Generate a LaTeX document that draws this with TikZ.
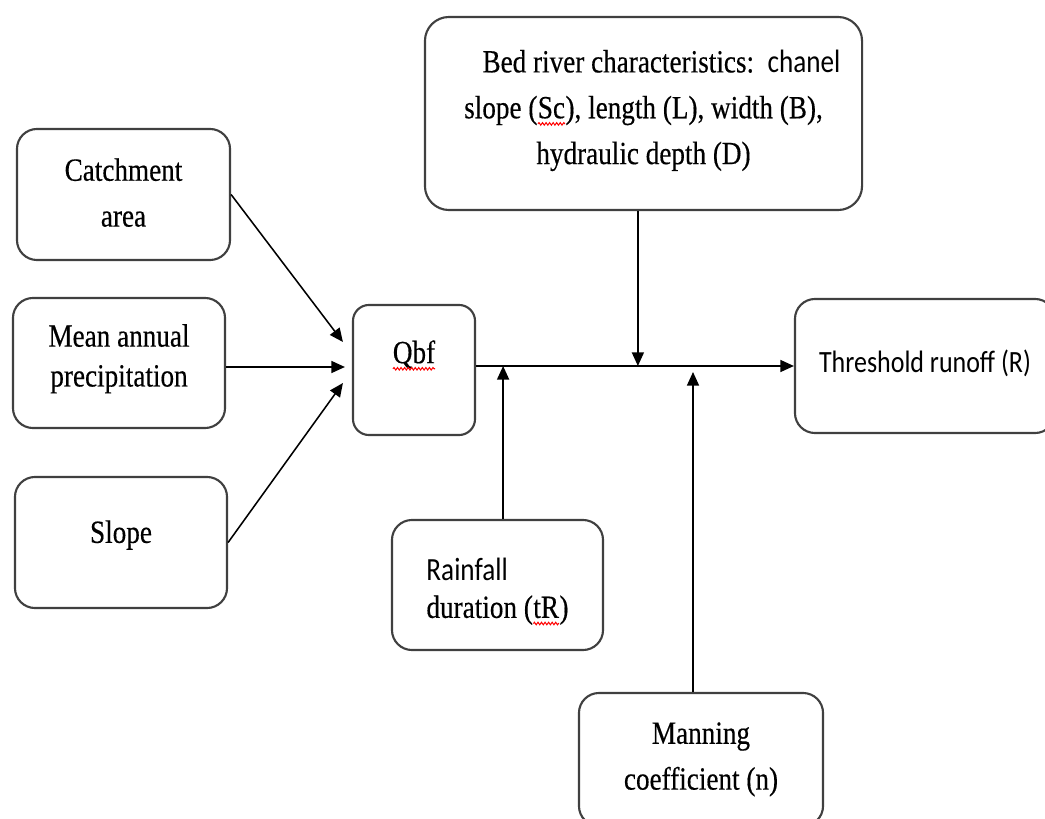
\documentclass[tikz,border=0pt]{standalone}
\usepackage{fontspec}
\usepackage{graphicx}
\setmainfont{Liberation Serif}[FakeBold=0.4]
\newfontfamily\carlito{Carlito}
\usetikzlibrary{arrows.meta,positioning,calc,decorations.pathmorphing}

% text is set a little narrow, as in the scanned figure
\newcommand{\lbl}[1]{\scalebox{0.84}[1]{\begin{tabular}{@{}c@{}}#1\end{tabular}}}
\newcommand{\lbll}[1]{\scalebox{0.84}[1]{\begin{tabular}{@{}l@{}}#1\end{tabular}}}
% move a label up or down inside its box
\newcommand{\nudge}[2]{\raisebox{#1}[\height][\depth]{#2}}
% red spell-check wave
\newcommand{\spell}[1]{\tikz[baseline=(sp.base)]{%
    \node[inner sep=0pt, outer sep=0pt, minimum size=0pt, draw=none, rounded corners=0pt] (sp) {#1};
    \draw[red, line width=0.8pt, rounded corners=0pt, decorate, decoration={snake, amplitude=0.9pt, segment length=3pt}]
        ([yshift=-4pt]sp.base west) -- ([yshift=-4pt]sp.base east);}}

\begin{document}
\begin{tikzpicture}[x=0.025cm, y=-0.025cm, font=\fontsize{23}{32.6}\selectfont,
    box/.style={draw=black!75, line width=1.5pt, rounded corners=0.5cm, inner sep=0pt},
    flow/.style={-{Triangle[length=0.34cm,width=0.3cm]}, line width=1.1pt}]

    \useasboundingbox (0,0) rectangle (1045,819);
    \fill[white] (0,0) rectangle (1045,819);

    \node[box, minimum width=5.325cm, minimum height=3.275cm] (catch) at (123.5,194.5) {\lbl{Catchment\\area}};
    \node[box, minimum width=5.3cm, minimum height=3.25cm]    (mean)  at (119,363)     {\nudge{0.14cm}{\lbl{Mean annual\\[-0.15cm]precipitation}}};
    \node[box, minimum width=5.3cm, minimum height=3.275cm]   (slope) at (121,542.5)   {\nudge{0.22cm}{\lbl{Slope}}};
    \node[box, rounded corners=0.4cm, minimum width=3.05cm, minimum height=3.25cm] (qbf) at (414,370) {\nudge{0.4cm}{\lbl{\spell{Qbf}}}};
    \node[box, rounded corners=0.6cm, minimum width=10.925cm, minimum height=4.825cm] (bed) at (643.5,113.5)
        {\nudge{0.11cm}{\lbl{\hspace*{1.07cm}Bed river characteristics:\ \ {\carlito chanel}\\slope (\spell{Sc}), length (L), width (B),\\hydraulic depth (D)}}};
    \node[box, minimum width=6.5cm, minimum height=3.35cm]    (thr)   at (925,366)     {\nudge{0.07cm}{\lbl{\carlito\fontsize{22}{30}\selectfont Threshold runoff (R)}}};
    \node[box, minimum width=5.275cm, minimum height=3.25cm]  (rain)  at (497.5,585)   {\nudge{-0.12cm}{\lbll{{\carlito Rainfall}\\[-0.2cm]duration (\spell{tR})}}};
    \node[box, minimum width=6.1cm, minimum height=3.325cm]   (man)   at (701,759.5)   {\nudge{0.05cm}{\lbl{Manning\\coefficient (n)}}};

    % arrow ends
    \coordinate (inA) at ([shift={(-9,-28)}]qbf.west);
    \coordinate (inB) at ([shift={(-7,-3)}]qbf.west);
    \coordinate (inC) at ([shift={(-9,13)}]qbf.west);
    \coordinate (bedout) at ([xshift=-0.14cm]bed.south);
    \coordinate (rainin) at ([xshift=0.14cm]rain.north);
    \coordinate (manin)  at ([xshift=-0.2cm]man.north);

    \draw[flow] (catch.east) -- (inA);
    \draw[flow] (mean.east |- inB) -- (inB);
    \draw[flow] (slope.east) -- (inC);
    \draw[flow] (qbf.east |- thr.west) -- (thr.west);
    \draw[flow] (bedout) -- (bedout |- thr.west);
    \draw[flow] (rainin) -- (rainin |- thr.west);
    \draw[flow, shorten >=0.15cm] (manin) -- (manin |- thr.west);
\end{tikzpicture}
\end{document}
